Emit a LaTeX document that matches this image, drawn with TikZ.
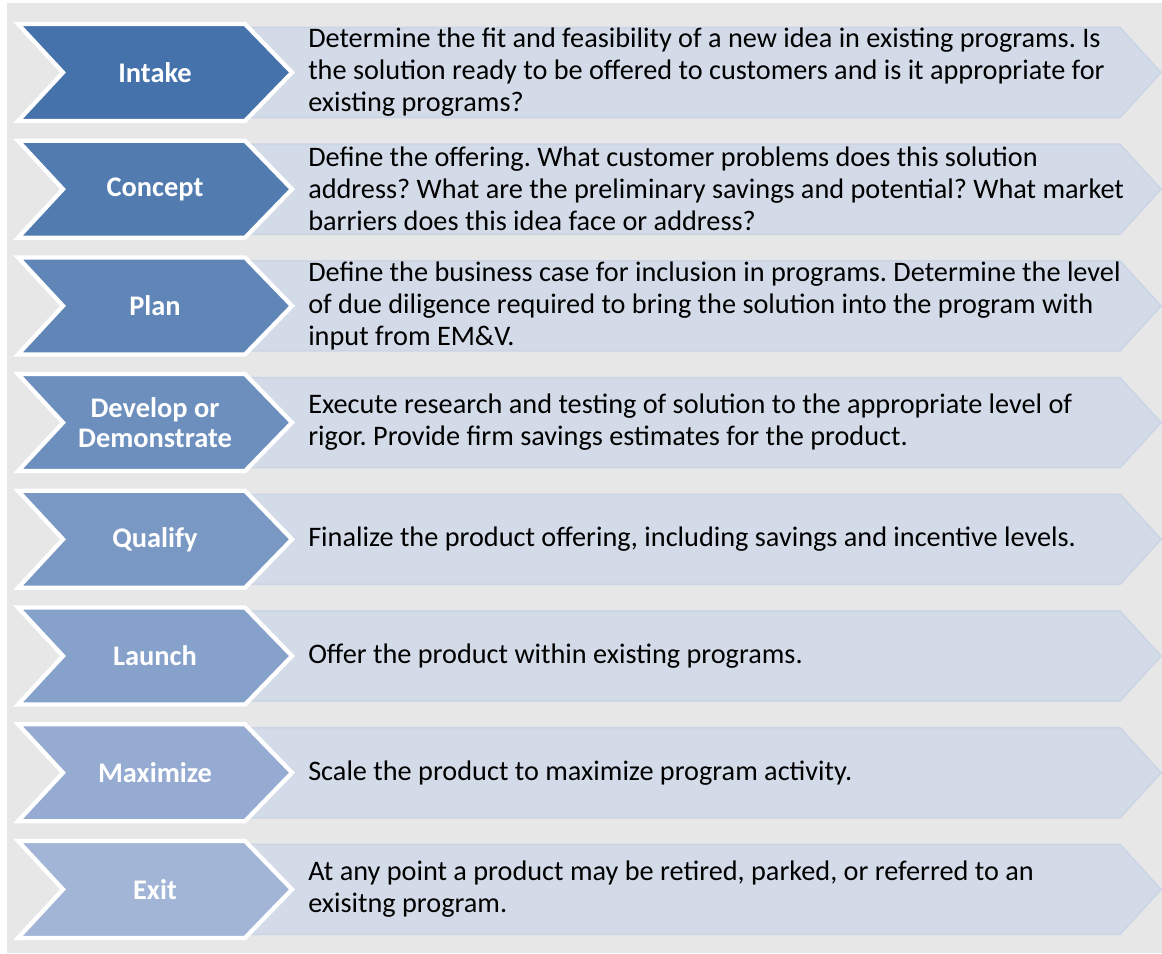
\documentclass[tikz,border=0pt]{standalone}
\usepackage{fontspec}
\setmainfont{Carlito}
\frenchspacing
\begin{document}
\definecolor{pagegray}{RGB}{231,231,231}
\definecolor{panelfill}{RGB}{211,219,232}
\definecolor{panelline}{RGB}{203,213,229}
\definecolor{stepA}{RGB}{69,114,170}
\definecolor{stepB}{RGB}{82,124,176}
\definecolor{stepC}{RGB}{96,133,183}
\definecolor{stepD}{RGB}{109,143,189}
\definecolor{stepE}{RGB}{122,152,196}
\definecolor{stepF}{RGB}{135,162,202}
\definecolor{stepG}{RGB}{149,171,209}
\definecolor{stepH}{RGB}{162,181,215}
\begin{tikzpicture}[x=0.75pt,y=-0.75pt,
  panel/.style={fill=panelfill,draw=panelline,line width=1.2pt,line join=miter},
  chevron/.style={fill=#1,draw=white,line width=3.2pt,line join=miter},
  steplabel/.style={text=white,font=\fontsize{21.3}{22.8}\selectfont\bfseries,align=center,inner sep=0pt},
  desc/.style={text=black,font=\fontsize{21.2}{24}\selectfont,align=left,anchor=west,inner sep=0pt}]
% page and background
\fill[white] (0,0) rectangle (1162,953);
\fill[pagegray] (7,3) rectangle (1162,953);
\useasboundingbox (0,0) rectangle (1162,953);
% one row: description panel, chevron, label, description
\newcommand\steprow[5]{%
  \path[panel] (250,#1-45) -- (1120,#1-45) -- (1161,#1) -- (1120,#1+45) -- (250,#1+45) -- cycle;
  \path[chevron=#2] (18,#1-48.5) -- (245,#1-48.5) -- (292,#1) -- (245,#1+48.5) -- (18,#1+48.5) -- (63,#1) -- cycle;
  \node[steplabel] (lab#5) at (155,#1) {#3};
  \node[desc] (txt#5) at (308,#1) {#4};
}
\steprow{72.5}{stepA}{Intake}{Determine the fit and feasibility of a new idea in existing programs. Is\\the solution ready to be offered to customers and is it appropriate for\\existing programs?}{1}
\steprow{189.2}{stepB}{Concept}{Define the offering. What customer problems does this solution\\address? What are the preliminary savings and potential? What market\\barriers does this idea face or address?}{2}
\steprow{305.9}{stepC}{Plan}{Define the business case for inclusion in programs. Determine the level\\of due diligence required to bring the solution into the program with\\input from EM\&V.}{3}
\steprow{422.6}{stepD}{Develop or\\Demonstrate}{Execute research and testing of solution to the appropriate level of\\rigor. Provide firm savings estimates for the product.}{4}
\steprow{539.3}{stepE}{Qualify}{Finalize the product offering, including savings and incentive levels.}{5}
\steprow{656.0}{stepF}{Launch}{Offer the product within existing programs.}{6}
\steprow{772.7}{stepG}{Maximize}{Scale the product to maximize program activity.}{7}
\steprow{889.4}{stepH}{Exit}{At any point a product may be retired, parked, or referred to an\\exisitng program.}{8}
\end{tikzpicture}
\end{document}
